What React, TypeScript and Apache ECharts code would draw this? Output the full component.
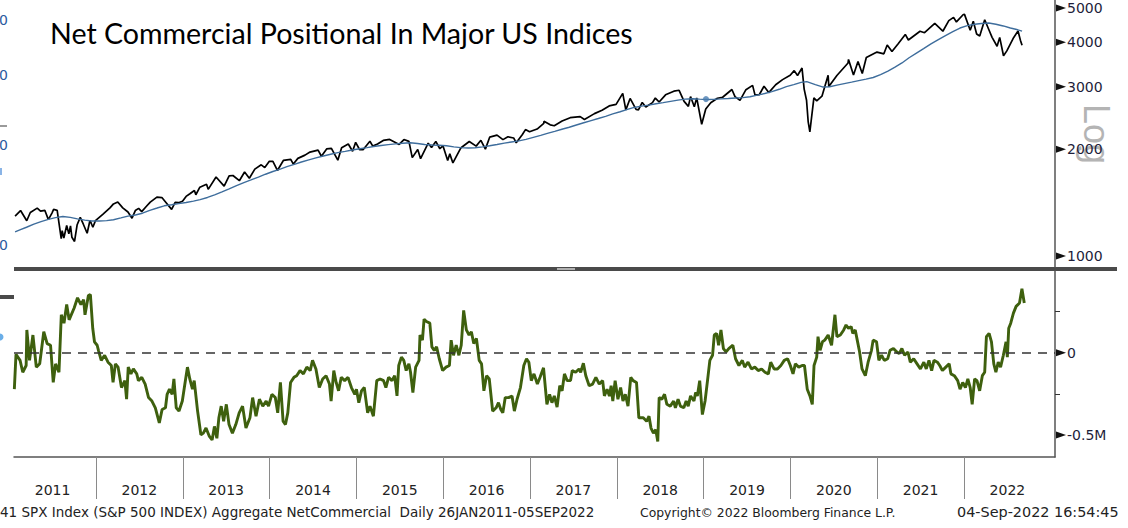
import React, { useEffect, useRef } from "react";
import * as echarts from "echarts";

const titleText = "Net Commercial Positional In Major US Indices";
const footerLeft = "41 SPX Index (S&P 500 INDEX) Aggregate NetCommercial  Daily 26JAN2011-05SEP2022";
const footerMid = "Copyright© 2022 Bloomberg Finance L.P.";
const footerRight = "04-Sep-2022 16:54:45";

const priceTicks = [1000, 2000, 3000, 4000, 5000];
const netLabelTicks = [-500, 0];
const netMinorTicks = [-250, 250];
const yearBoundaries = [2012, 2013, 2014, 2015, 2016, 2017, 2018, 2019, 2020, 2021, 2022];
const yearLabelPositions = [2011.5, 2012.5, 2013.5, 2014.5, 2015.5, 2016.5, 2017.5, 2018.5, 2019.5, 2020.5, 2021.5, 2022.5];

// S&P 500 closes (sampled)
const spx: [string, number][] = [
  ["2011-01-26", 1296], ["2011-02-18", 1343], ["2011-03-16", 1257], ["2011-03-31", 1326], ["2011-04-29", 1364],
  ["2011-05-13", 1338], ["2011-05-31", 1345], ["2011-06-15", 1266], ["2011-06-30", 1321], ["2011-07-07", 1353],
  ["2011-07-22", 1345], ["2011-08-08", 1119], ["2011-08-12", 1179], ["2011-08-19", 1124], ["2011-08-31", 1219],
  ["2011-09-09", 1154], ["2011-09-16", 1216], ["2011-09-22", 1129], ["2011-10-03", 1099], ["2011-10-14", 1225],
  ["2011-10-27", 1285], ["2011-11-09", 1229], ["2011-11-25", 1159], ["2011-12-07", 1261], ["2011-12-19", 1205],
  ["2011-12-30", 1258], ["2012-01-31", 1312], ["2012-02-29", 1366], ["2012-03-15", 1402], ["2012-04-02", 1419],
  ["2012-04-23", 1366], ["2012-05-15", 1330], ["2012-06-01", 1278], ["2012-06-15", 1343], ["2012-06-29", 1362],
  ["2012-07-12", 1334], ["2012-07-31", 1379], ["2012-08-17", 1418], ["2012-09-14", 1465], ["2012-10-05", 1461],
  ["2012-10-23", 1413], ["2012-11-15", 1353], ["2012-11-30", 1416], ["2012-12-14", 1413], ["2012-12-31", 1426],
  ["2013-01-15", 1472], ["2013-01-31", 1498], ["2013-02-19", 1530], ["2013-02-25", 1488], ["2013-03-14", 1563],
  ["2013-04-11", 1593], ["2013-04-18", 1541], ["2013-05-21", 1669], ["2013-06-24", 1573], ["2013-07-15", 1682],
  ["2013-07-31", 1686], ["2013-08-27", 1630], ["2013-09-18", 1725], ["2013-10-08", 1656], ["2013-10-31", 1757],
  ["2013-11-27", 1807], ["2013-12-12", 1775], ["2013-12-31", 1848], ["2014-01-15", 1848], ["2014-02-03", 1742],
  ["2014-02-28", 1859], ["2014-03-31", 1872], ["2014-04-11", 1816], ["2014-04-30", 1884], ["2014-05-30", 1924],
  ["2014-06-20", 1963], ["2014-07-24", 1988], ["2014-08-07", 1910], ["2014-08-29", 2003], ["2014-09-18", 2011],
  ["2014-10-15", 1862], ["2014-10-31", 2018], ["2014-11-28", 2068], ["2014-12-16", 1973], ["2014-12-29", 2090],
  ["2015-01-15", 1993], ["2015-01-30", 1995], ["2015-02-27", 2105], ["2015-03-11", 2040], ["2015-03-31", 2068],
  ["2015-04-24", 2117], ["2015-05-21", 2131], ["2015-06-30", 2063], ["2015-07-20", 2129], ["2015-08-10", 2104],
  ["2015-08-24", 1893], ["2015-09-16", 1996], ["2015-09-28", 1881], ["2015-10-30", 2079], ["2015-11-13", 2023],
  ["2015-12-01", 2103], ["2015-12-18", 2006], ["2015-12-31", 2044], ["2016-01-20", 1859], ["2016-01-29", 1940],
  ["2016-02-11", 1829], ["2016-03-15", 2015], ["2016-04-20", 2102], ["2016-05-19", 2040], ["2016-06-08", 2119],
  ["2016-06-27", 2001], ["2016-07-15", 2162], ["2016-08-15", 2190], ["2016-09-09", 2128], ["2016-09-30", 2168],
  ["2016-10-24", 2151], ["2016-11-04", 2085], ["2016-11-30", 2199], ["2016-12-13", 2271], ["2016-12-30", 2239],
  ["2017-01-31", 2279], ["2017-02-28", 2364], ["2017-03-01", 2396], ["2017-03-27", 2342], ["2017-04-13", 2329],
  ["2017-05-16", 2400], ["2017-06-19", 2453], ["2017-07-31", 2470], ["2017-08-18", 2426], ["2017-09-29", 2519],
  ["2017-10-31", 2575], ["2017-11-30", 2648], ["2017-12-29", 2674], ["2018-01-26", 2873], ["2018-02-08", 2581],
  ["2018-02-26", 2780], ["2018-03-23", 2588], ["2018-04-02", 2582], ["2018-04-18", 2709], ["2018-05-03", 2630],
  ["2018-05-31", 2705], ["2018-06-12", 2787], ["2018-06-28", 2716], ["2018-07-25", 2846], ["2018-08-29", 2914],
  ["2018-09-20", 2931], ["2018-10-11", 2728], ["2018-10-29", 2641], ["2018-11-07", 2814], ["2018-11-23", 2633],
  ["2018-12-03", 2790], ["2018-12-24", 2351], ["2019-01-10", 2596], ["2019-01-31", 2704], ["2019-02-28", 2784],
  ["2019-03-22", 2801], ["2019-04-30", 2946], ["2019-05-13", 2812], ["2019-06-03", 2744], ["2019-06-28", 2942],
  ["2019-07-26", 3026], ["2019-08-05", 2845], ["2019-08-23", 2847], ["2019-09-12", 3009], ["2019-10-02", 2887],
  ["2019-10-31", 3038], ["2019-11-29", 3141], ["2019-12-31", 3231], ["2020-01-17", 3330], ["2020-01-31", 3226],
  ["2020-02-19", 3386], ["2020-02-28", 2954], ["2020-03-09", 2747], ["2020-03-16", 2386], ["2020-03-23", 2237],
  ["2020-04-09", 2790], ["2020-04-21", 2737], ["2020-05-13", 2820], ["2020-06-08", 3232], ["2020-06-11", 3002],
  ["2020-07-15", 3227], ["2020-08-31", 3500], ["2020-09-02", 3580], ["2020-09-23", 3237], ["2020-10-12", 3534],
  ["2020-10-30", 3270], ["2020-11-16", 3627], ["2020-12-31", 3756], ["2021-01-29", 3714], ["2021-02-12", 3934],
  ["2021-03-04", 3768], ["2021-03-31", 3973], ["2021-04-29", 4211], ["2021-05-12", 4063], ["2021-06-30", 4298],
  ["2021-07-19", 4258], ["2021-08-31", 4523], ["2021-09-02", 4537], ["2021-10-04", 4300], ["2021-10-29", 4605],
  ["2021-11-18", 4704], ["2021-11-30", 4567], ["2021-12-29", 4793], ["2022-01-03", 4797], ["2022-01-27", 4326],
  ["2022-02-09", 4587], ["2022-02-23", 4225], ["2022-03-08", 4171], ["2022-03-29", 4632], ["2022-04-12", 4397],
  ["2022-04-29", 4132], ["2022-05-20", 3901], ["2022-05-31", 4132], ["2022-06-16", 3667], ["2022-06-30", 3785],
  ["2022-07-29", 4130], ["2022-08-16", 4305], ["2022-08-26", 4058], ["2022-09-02", 3924],
];

// Moving average (sampled)
const movingAverage: [string, number][] = [
  ["2011-01-26", 1170], ["2011-02-15", 1185], ["2011-03-15", 1205], ["2011-04-15", 1230], ["2011-05-15", 1250],
  ["2011-06-15", 1268], ["2011-07-15", 1283], ["2011-08-15", 1292], ["2011-09-15", 1285], ["2011-10-15", 1272],
  ["2011-11-15", 1262], ["2011-12-15", 1255], ["2012-01-15", 1255], ["2012-02-15", 1258], ["2012-03-15", 1265],
  ["2012-04-15", 1280], ["2012-05-15", 1295], ["2012-06-15", 1305], ["2012-07-15", 1320], ["2012-08-15", 1345],
  ["2012-09-15", 1365], ["2012-10-15", 1385], ["2012-11-15", 1395], ["2012-12-15", 1405], ["2013-01-15", 1415],
  ["2013-02-15", 1428], ["2013-03-15", 1442], ["2013-04-15", 1462], ["2013-05-15", 1487], ["2013-06-15", 1515],
  ["2013-07-15", 1545], ["2013-08-15", 1578], ["2013-09-15", 1610], ["2013-10-15", 1638], ["2013-11-15", 1668],
  ["2013-12-15", 1700], ["2014-01-15", 1730], ["2014-02-15", 1757], ["2014-03-15", 1785], ["2014-04-15", 1812],
  ["2014-05-15", 1840], ["2014-06-15", 1866], ["2014-07-15", 1890], ["2014-08-15", 1914], ["2014-09-15", 1935],
  ["2014-10-15", 1955], ["2014-11-15", 1972], ["2014-12-15", 1990], ["2015-01-15", 2005], ["2015-02-15", 2020],
  ["2015-03-15", 2035], ["2015-04-15", 2048], ["2015-05-15", 2060], ["2015-06-15", 2070], ["2015-07-15", 2078],
  ["2015-08-15", 2085], ["2015-09-15", 2075], ["2015-10-15", 2062], ["2015-11-15", 2055], ["2015-12-15", 2052],
  ["2016-01-15", 2045], ["2016-02-15", 2030], ["2016-03-15", 2020], ["2016-04-15", 2015], ["2016-05-15", 2018],
  ["2016-06-15", 2030], ["2016-07-15", 2045], ["2016-08-15", 2062], ["2016-09-15", 2080], ["2016-10-15", 2095],
  ["2016-11-15", 2110], ["2016-12-15", 2132], ["2017-01-15", 2160], ["2017-02-15", 2188], ["2017-03-15", 2215],
  ["2017-04-15", 2245], ["2017-05-15", 2276], ["2017-06-15", 2306], ["2017-07-15", 2340], ["2017-08-15", 2374],
  ["2017-09-15", 2408], ["2017-10-15", 2440], ["2017-11-15", 2475], ["2017-12-15", 2515], ["2018-01-15", 2550],
  ["2018-02-15", 2590], ["2018-03-15", 2622], ["2018-04-15", 2645], ["2018-05-15", 2662], ["2018-06-15", 2685],
  ["2018-07-15", 2705], ["2018-08-15", 2728], ["2018-09-15", 2750], ["2018-10-15", 2768], ["2018-11-15", 2775],
  ["2018-12-15", 2768], ["2019-01-15", 2762], ["2019-02-15", 2765], ["2019-03-15", 2772], ["2019-04-15", 2780],
  ["2019-05-15", 2788], ["2019-06-15", 2795], ["2019-07-15", 2810], ["2019-08-15", 2840], ["2019-09-15", 2870],
  ["2019-10-15", 2905], ["2019-11-15", 2950], ["2019-12-15", 3000], ["2020-01-15", 3040], ["2020-02-15", 3085],
  ["2020-03-10", 3100], ["2020-04-15", 3040], ["2020-05-15", 2995], ["2020-06-15", 3000], ["2020-07-15", 3030],
  ["2020-08-15", 3060], ["2020-09-15", 3090], ["2020-10-15", 3120], ["2020-11-15", 3150], ["2020-12-15", 3185],
  ["2021-01-15", 3245], ["2021-02-15", 3320], ["2021-03-15", 3400], ["2021-04-15", 3500], ["2021-05-15", 3620],
  ["2021-06-15", 3730], ["2021-07-15", 3840], ["2021-08-15", 3960], ["2021-09-15", 4070], ["2021-10-15", 4180],
  ["2021-11-15", 4290], ["2021-12-15", 4390], ["2022-01-15", 4460], ["2022-02-15", 4500], ["2022-03-15", 4520],
  ["2022-04-15", 4537], ["2022-05-15", 4500], ["2022-06-15", 4450], ["2022-07-15", 4390], ["2022-08-15", 4340],
  ["2022-09-02", 4305],
];

const maMarker: [string, number][] = [["2019-01-11", 2768]];

// Aggregate net commercial position (thousands of contracts), [decimal year, value]
const netCommercial: [number, number][] = [
  [2011.060,-222],[2011.079,-10],[2011.126,-47],[2011.157,-119],[2011.196,-78],[2011.204,138],[2011.235,-47],[2011.274,107],[2011.313,-88],[2011.352,-68],
  [2011.399,127],[2011.438,55],[2011.477,45],[2011.508,-181],[2011.535,-68],[2011.574,-119],[2011.601,230],[2011.632,179],[2011.663,292],[2011.691,199],
  [2011.749,271],[2011.788,333],[2011.827,292],[2011.858,322],[2011.874,230],[2011.913,347],[2011.936,353],[2011.963,148],[2011.983,66],[2012.014,45],
  [2012.029,14],[2012.061,-47],[2012.100,-16],[2012.139,-58],[2012.177,-78],[2012.197,-181],[2012.224,-68],[2012.255,-88],[2012.294,-212],[2012.333,-170],
  [2012.353,-283],[2012.372,-88],[2012.403,-129],[2012.431,-99],[2012.470,-129],[2012.489,-170],[2012.528,-150],[2012.567,-191],[2012.606,-273],[2012.645,-294],
  [2012.684,-335],[2012.730,-427],[2012.762,-345],[2012.801,-335],[2012.820,-253],[2012.847,-222],[2012.878,-253],[2012.898,-160],[2012.925,-335],[2012.957,-355],
  [2012.995,-294],[2013.027,-181],[2013.054,-88],[2013.081,-160],[2013.112,-222],[2013.132,-170],[2013.171,-355],[2013.209,-499],[2013.237,-489],[2013.268,-458],
  [2013.307,-509],[2013.338,-530],[2013.365,-448],[2013.393,-520],[2013.416,-396],[2013.443,-325],[2013.471,-417],[2013.502,-314],[2013.533,-437],[2013.572,-489],
  [2013.611,-437],[2013.650,-366],[2013.689,-325],[2013.728,-458],[2013.774,-396],[2013.805,-273],[2013.844,-386],[2013.883,-283],[2013.922,-325],[2013.961,-294],
  [2013.988,-325],[2014.027,-253],[2014.066,-273],[2014.094,-366],[2014.125,-181],[2014.156,-417],[2014.183,-437],[2014.210,-366],[2014.242,-181],[2014.281,-150],
  [2014.312,-140],[2014.351,-109],[2014.390,-129],[2014.429,-88],[2014.468,-109],[2014.495,-47],[2014.534,-99],[2014.573,-212],[2014.612,-160],[2014.651,-140],
  [2014.690,-191],[2014.709,-294],[2014.740,-109],[2014.767,-181],[2014.795,-232],[2014.826,-150],[2014.865,-170],[2014.904,-150],[2014.943,-212],[2014.982,-253],
  [2015.001,-222],[2015.028,-304],[2015.059,-232],[2015.091,-212],[2015.130,-366],[2015.157,-325],[2015.196,-386],[2015.235,-170],[2015.274,-160],[2015.313,-170],
  [2015.340,-212],[2015.371,-150],[2015.410,-170],[2015.441,-140],[2015.468,-263],[2015.488,-78],[2015.519,-27],[2015.546,-47],[2015.574,-109],[2015.605,-68],
  [2015.624,-119],[2015.651,-242],[2015.683,-88],[2015.722,-47],[2015.733,107],[2015.761,76],[2015.780,203],[2015.807,189],[2015.846,179],[2015.870,35],
  [2015.897,14],[2015.924,35],[2015.955,-37],[2015.994,-109],[2016.033,-88],[2016.072,-78],[2016.092,76],[2016.119,-16],[2016.150,45],[2016.181,-16],
  [2016.208,45],[2016.236,257],[2016.267,138],[2016.298,107],[2016.325,127],[2016.352,55],[2016.383,86],[2016.415,-47],[2016.442,-68],[2016.469,-232],
  [2016.500,-140],[2016.531,-160],[2016.570,-355],[2016.610,-335],[2016.637,-304],[2016.664,-345],[2016.687,-366],[2016.715,-273],[2016.754,-273],[2016.793,-263],
  [2016.820,-355],[2016.851,-283],[2016.890,-212],[2016.929,-78],[2016.960,-37],[2016.987,-58],[2017.015,-170],[2017.046,-129],[2017.085,-191],[2017.116,-150],
  [2017.156,-92],[2017.195,-314],[2017.226,-253],[2017.253,-304],[2017.280,-263],[2017.312,-331],[2017.343,-201],[2017.370,-232],[2017.397,-129],[2017.428,-170],
  [2017.467,-170],[2017.487,-109],[2017.526,-119],[2017.565,-99],[2017.584,-119],[2017.615,-64],[2017.643,-140],[2017.682,-201],[2017.721,-191],[2017.759,-150],
  [2017.798,-191],[2017.837,-170],[2017.857,-263],[2017.888,-222],[2017.915,-263],[2017.935,-201],[2017.954,-294],[2017.981,-170],[2018.013,-283],[2018.044,-212],
  [2018.071,-294],[2018.098,-253],[2018.129,-325],[2018.161,-150],[2018.188,-170],[2018.227,-181],[2018.254,-396],[2018.305,-396],[2018.344,-417],[2018.371,-386],
  [2018.394,-458],[2018.422,-489],[2018.449,-468],[2018.472,-540],[2018.488,-273],[2018.519,-283],[2018.550,-253],[2018.577,-314],[2018.616,-325],[2018.655,-294],
  [2018.675,-335],[2018.706,-283],[2018.733,-325],[2018.772,-335],[2018.799,-294],[2018.823,-325],[2018.850,-263],[2018.889,-294],[2018.908,-242],[2018.928,-263],
  [2018.955,-170],[2018.986,-376],[2019.017,-294],[2019.045,-170],[2019.072,-47],[2019.103,-16],[2019.123,107],[2019.150,117],[2019.173,45],[2019.200,138],
  [2019.228,25],[2019.259,4],[2019.290,25],[2019.337,45],[2019.368,-37],[2019.407,-78],[2019.446,-47],[2019.473,-88],[2019.512,-58],[2019.551,-99],
  [2019.590,-88],[2019.629,-109],[2019.668,-99],[2019.707,-119],[2019.746,-129],[2019.773,-58],[2019.812,-99],[2019.851,-99],[2019.890,-78],[2019.929,-47],
  [2019.968,-37],[2019.999,-78],[2020.030,-129],[2020.057,-68],[2020.096,-88],[2020.135,-78],[2020.162,-78],[2020.194,-222],[2020.225,-263],[2020.252,-314],
  [2020.272,-78],[2020.303,-27],[2020.318,97],[2020.342,14],[2020.369,66],[2020.396,76],[2020.435,107],[2020.474,45],[2020.513,230],[2020.536,97],
  [2020.575,107],[2020.614,138],[2020.641,168],[2020.669,148],[2020.700,158],[2020.719,117],[2020.747,138],[2020.770,76],[2020.797,4],[2020.825,-99],
  [2020.863,-140],[2020.895,-58],[2020.934,14],[2020.953,76],[2020.992,66],[2021.019,-47],[2021.050,-16],[2021.082,-47],[2021.121,-37],[2021.148,14],
  [2021.187,25],[2021.226,4],[2021.253,-6],[2021.284,25],[2021.315,-16],[2021.354,4],[2021.381,-58],[2021.420,-37],[2021.459,-68],[2021.498,-99],
  [2021.537,-58],[2021.565,-99],[2021.596,-47],[2021.627,-109],[2021.654,-47],[2021.693,-58],[2021.720,-78],[2021.751,-109],[2021.790,-88],[2021.829,-68],
  [2021.849,-129],[2021.888,-140],[2021.927,-170],[2021.954,-222],[2021.985,-181],[2022.016,-212],[2022.044,-160],[2022.071,-212],[2022.094,-314],[2022.122,-160],
  [2022.149,-170],[2022.180,-232],[2022.211,-140],[2022.238,-119],[2022.258,97],[2022.289,117],[2022.316,66],[2022.343,-68],[2022.367,-119],[2022.394,-58],
  [2022.421,-88],[2022.453,-16],[2022.484,66],[2022.499,-27],[2022.515,148],[2022.538,179],[2022.569,240],[2022.600,281],[2022.639,302],[2022.667,388],
  [2022.694,302],
];

const X_MIN = 2011.056;
const X_MAX = 2023.048;
const PRICE_MIN = 931;
const PRICE_MAX = 5266;
const NET_MIN = -634;
const NET_MAX = 496;

function toYear(s: string): number {
  const [y, m, d] = s.split("-").map(Number);
  const t = Date.UTC(y, m - 1, d);
  const t0 = Date.UTC(y, 0, 1);
  const t1 = Date.UTC(y + 1, 0, 1);
  return y + (t - t0) / (t1 - t0);
}

const labelFont = "DejaVu Sans";
const labelColor = "#1e1e3a";

export default function App() {
  const ref = useRef<HTMLDivElement>(null);

  useEffect(() => {
    if (!ref.current) return;
    const chart = echarts.init(ref.current, undefined, { renderer: "svg" });
    const option: any = {
      animation: false,
      backgroundColor: "#ffffff",
      grid: [
        { left: 14, right: 73, top: 0, height: 267, outerBoundsMode: "none", containLabel: false },
        { left: 14, right: 73, top: 271, height: 186, outerBoundsMode: "none", containLabel: false },
      ],
      xAxis: [
        { type: "value", gridIndex: 0, min: X_MIN, max: X_MAX, show: false },
        {
          type: "value", gridIndex: 1, min: X_MIN, max: X_MAX, position: "bottom",
          axisLine: { show: true, onZero: false, lineStyle: { color: "#555", width: 1.5 } },
          axisTick: { show: true, inside: false, customValues: yearBoundaries, length: 42, lineStyle: { color: "#8a8a8a", width: 1 } },
          axisLabel: {
            show: true, customValues: yearLabelPositions, formatter: (v: number) => String(Math.floor(v)),
            margin: 26, fontSize: 14, color: "#222", fontFamily: labelFont, verticalAlign: "top",
          },
          splitLine: { show: false },
        },
      ],
      yAxis: [
        {
          type: "log", logBase: 10, gridIndex: 0, position: "right", min: PRICE_MIN, max: PRICE_MAX,
          axisLine: { show: true, lineStyle: { color: "#555", width: 1.5 } },
          axisTick: { show: false },
          axisLabel: {
            show: true, customValues: priceTicks, margin: 12, fontSize: 14, color: labelColor, fontFamily: labelFont,
            formatter: (v: number) => String(Math.round(v)),
          },
          splitLine: { show: false },
        },
        {
          type: "value", gridIndex: 1, position: "right", min: NET_MIN, max: NET_MAX,
          axisLine: { show: true, lineStyle: { color: "#555", width: 1.5 } },
          axisTick: { show: true, customValues: netMinorTicks, length: 5, lineStyle: { color: "#333", width: 1 } },
          axisLabel: {
            show: true, customValues: netLabelTicks, margin: 12, fontSize: 14, color: labelColor, fontFamily: labelFont,
            formatter: (v: number) => (v === 0 ? "0" : (v / 1000).toFixed(1) + "M"),
          },
          splitLine: { show: false },
        },
      ],
      series: [
        {
          type: "line", xAxisIndex: 0, yAxisIndex: 0, showSymbol: false, symbol: "none",
          data: spx.map(([d, v]) => [toYear(d), v]),
          lineStyle: { color: "#000", width: 1.7 }, z: 3,
        },
        {
          type: "line", xAxisIndex: 0, yAxisIndex: 0, showSymbol: false, symbol: "none",
          data: movingAverage.map(([d, v]) => [toYear(d), v]),
          lineStyle: { color: "#3e6d9c", width: 1.4 }, z: 4,
        },
        {
          type: "scatter", xAxisIndex: 0, yAxisIndex: 0, symbolSize: 6,
          data: maMarker.map(([d, v]) => [toYear(d), v]),
          itemStyle: { color: "#4a7db0" }, z: 5,
        },
        {
          type: "line", xAxisIndex: 1, yAxisIndex: 1, showSymbol: false, symbol: "none",
          data: netCommercial,
          lineStyle: { color: "#3e600e", width: 2.9 },
          markLine: {
            silent: true, symbol: "none", label: { show: false },
            lineStyle: { color: "#333", type: [9, 7], width: 1.5 },
            data: [{ yAxis: 0 }],
          },
        },
      ],
    };
    chart.setOption(option);

    const tri = (x: number, y: number) => ({
      type: "polygon",
      shape: { points: [[x, y - 3.5], [x + 10, y], [x, y + 3.5]] },
      style: { fill: "#111" },
      silent: true,
    });
    const triangles: any[] = [];
    priceTicks.forEach((v) => {
      const p = chart.convertToPixel({ gridIndex: 0 }, [X_MAX, v]) as number[];
      triangles.push(tri(p[0] + 1, p[1]));
    });
    netLabelTicks.forEach((v) => {
      const p = chart.convertToPixel({ gridIndex: 1 }, [X_MAX, v]) as number[];
      triangles.push(tri(p[0] + 1, p[1]));
    });

    const graphics: any[] = [
      {
        type: "text", x: 1096, y: 104, rotation: -Math.PI / 2, z: -1, silent: true,
        style: { text: "Log", font: "36px 'Liberation Sans'", fill: "#b4b4b4", align: "left", verticalAlign: "middle" },
      },
      {
        type: "text", x: 50, y: 33, silent: true,
        style: { text: titleText, font: "28.6px Lato", fill: "#000", align: "left", verticalAlign: "middle" },
      },
      { type: "rect", shape: { x: 14, y: 267, width: 1103, height: 4 }, style: { fill: "#4a4a4a" }, silent: true },
      { type: "rect", shape: { x: 557, y: 268, width: 18, height: 2 }, style: { fill: "#b0b0b0" }, silent: true },
      { type: "rect", shape: { x: 0, y: 295, width: 14, height: 4 }, style: { fill: "#4a4a4a" }, silent: true },
      { type: "circle", shape: { cx: 0, cy: 337, r: 3.5 }, style: { fill: "#6aaee8" }, silent: true },
      { type: "rect", shape: { x: 0, y: 125, width: 7, height: 2 }, style: { fill: "#9a9a9a" }, silent: true },
      { type: "rect", shape: { x: 0, y: 168, width: 2, height: 7 }, style: { fill: "#8ab4e6" }, silent: true },
      ...[20, 75, 145, 245].map((y) => ({
        type: "text", x: -1, y, silent: true,
        style: { text: "0", font: `14px '${labelFont}'`, fill: "#2c5aa0", align: "left", verticalAlign: "middle" },
      })),
      {
        type: "text", x: 0, y: 512, silent: true,
        style: { text: footerLeft, font: `13.5px '${labelFont}'`, fill: "#222", align: "left", verticalAlign: "middle" },
      },
      {
        type: "text", x: 640, y: 512, silent: true,
        style: { text: footerMid, font: `12.4px '${labelFont}'`, fill: "#222", align: "left", verticalAlign: "middle" },
      },
      {
        type: "text", x: 957, y: 512, silent: true,
        style: { text: footerRight, font: `14.4px '${labelFont}'`, fill: "#222", align: "left", verticalAlign: "middle" },
      },
      ...triangles,
    ];
    chart.setOption({ graphic: graphics });

    return () => chart.dispose();
  }, []);

  return (
    <div
      ref={ref}
      style={{ position: "fixed", left: 0, top: 0, width: 1128, height: 528, background: "#fff" }}
    />
  );
}
